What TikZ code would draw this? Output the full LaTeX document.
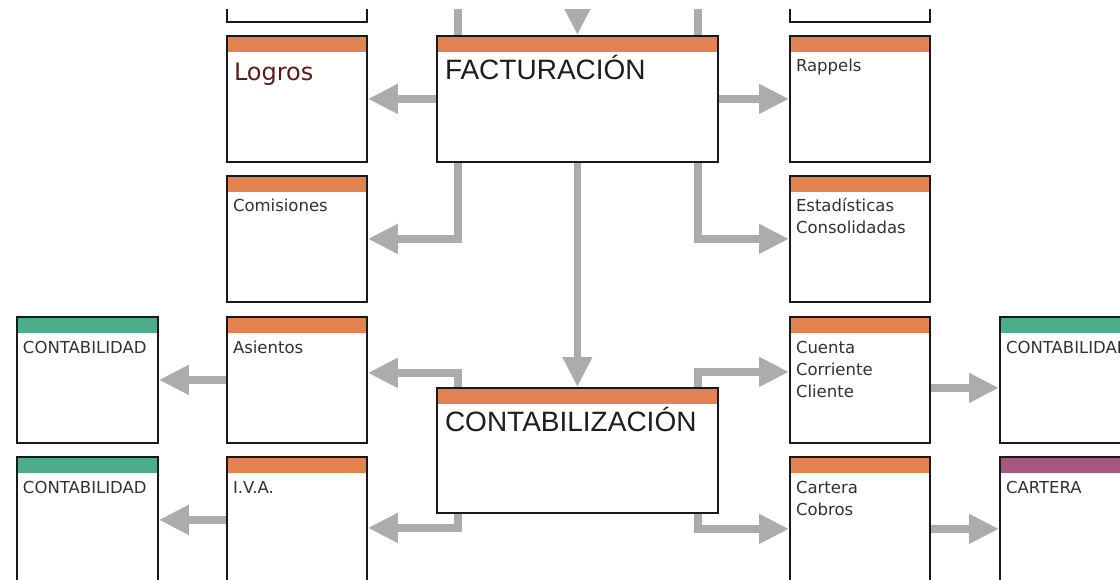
\documentclass[tikz,border=0pt]{standalone}
\usepackage{fontspec}
\newfontfamily\cardfont{DejaVu Sans}
\newfontfamily\titlefont{Liberation Sans}
\usetikzlibrary{arrows.meta}
\definecolor{hdrorange}{RGB}{227,131,82}
\definecolor{hdrgreen}{RGB}{79,172,139}
\definecolor{hdrpurple}{RGB}{170,85,127}
\definecolor{arrgray}{RGB}{172,172,172}
\definecolor{txtgray}{RGB}{50,50,50}
\definecolor{titleblack}{RGB}{30,30,30}
\definecolor{logrored}{RGB}{92,26,26}
\tikzset{
  card/.style={rectangle, draw=black!90, line width=1.8pt, fill=white, inner sep=0pt,
    anchor=north west,
    path picture={\fill[#1] (path picture bounding box.north west) rectangle ([yshift=-16pt]path picture bounding box.north east);}},
  small/.style={minimum width=140pt, minimum height=126pt},
  big/.style={minimum width=281pt, minimum height=126pt},
  lbl/.style={anchor=north west, inner sep=0pt, outer sep=0pt, align=left, text=txtgray,
    font=\cardfont\fontsize{16.5}{22}\selectfont},
  ttl/.style={anchor=north west, inner sep=0pt, outer sep=0pt, text=titleblack,
    font=\titlefont\fontsize{28}{32}\selectfont},
  conn/.style={draw=arrgray, line width=7.5pt, line join=miter},
  arr/.style={conn, -{Triangle[length=30pt,width=28pt]}}
}
\begin{document}
\begin{tikzpicture}[x=1pt,y=-1pt]
\useasboundingbox (0,0) rectangle (1120,580);
\clip (0,10) rectangle (1120,580);
% left column
\node[card=hdrorange, small] (topl) at (226,-105) {};
\node[card=hdrorange, small] (logros) at (226,35) {};
\node[card=hdrorange, small] (comis) at (226,175) {};
\node[card=hdrorange, small] (asientos) at (226,316) {};
\node[card=hdrorange, small] (iva) at (226,456) {};
% right column
\node[card=hdrorange, small] (topr) at (789,-105) {};
\node[card=hdrorange, small] (rappels) at (789,35) {};
\node[card=hdrorange, small] (estad) at (789,175) {};
\node[card=hdrorange, small] (cuenta) at (789,316) {};
\node[card=hdrorange, small] (cartcob) at (789,456) {};
% outer columns
\node[card=hdrgreen, small, minimum width=141pt] (cont1) at (16,316) {};
\node[card=hdrgreen, small, minimum width=141pt] (cont2) at (16,456) {};
\node[card=hdrgreen, small] (cont3) at (999,316) {};
\node[card=hdrpurple, small] (cartera) at (999,456) {};
% centre
\node[card=hdrorange, big] (fact) at (436,35) {};
\node[card=hdrorange, big, minimum height=125pt] (contab) at (436,387) {};
% texts
\node[lbl, text=logrored, font=\cardfont\fontsize{24}{28}\selectfont] (tlogros) at ([xshift=8pt,yshift=-26.4pt]logros.north west) {\strut Logros};
\node[lbl] (tcomis) at ([xshift=7pt,yshift=-21.6pt]comis.north west) {\strut Comisiones};
\node[lbl] (tasientos) at ([xshift=7pt,yshift=-21.6pt]asientos.north west) {\strut Asientos};
\node[lbl] (tiva) at ([xshift=7pt,yshift=-21.6pt]iva.north west) {\strut I.V.A.};
\node[lbl] (trappels) at ([xshift=7pt,yshift=-21.6pt]rappels.north west) {\strut Rappels};
\node[lbl] (testad) at ([xshift=7pt,yshift=-21.6pt]estad.north west) {\strut Estadísticas\\Consolidadas};
\node[lbl] (tcuenta) at ([xshift=7pt,yshift=-21.6pt]cuenta.north west) {\strut Cuenta\\Corriente\\Cliente};
\node[lbl] (tcartcob) at ([xshift=7pt,yshift=-21.6pt]cartcob.north west) {\strut Cartera\\Cobros};
\node[lbl] (tcont1) at ([xshift=7pt,yshift=-21.6pt]cont1.north west) {\strut CONTABILIDAD};
\node[lbl] (tcont2) at ([xshift=7pt,yshift=-21.6pt]cont2.north west) {\strut CONTABILIDAD};
\node[lbl] (tcont3) at ([xshift=7pt,yshift=-21.6pt]cont3.north west) {\strut CONTABILIDAD};
\node[lbl] (tcartera) at ([xshift=7pt,yshift=-21.6pt]cartera.north west) {\strut CARTERA};
\node[ttl] (tfact) at ([xshift=9pt,yshift=-20.6pt]fact.north west) {\strut FACTURACIÓN};
\node[ttl] (tcontab) at ([xshift=9pt,yshift=-20.6pt]contab.north west) {\strut CONTABILIZACIÓN};
% incoming from above
\coordinate (inL) at ([xshift=22pt,yshift=40pt]fact.north west);
\coordinate (inC) at ([yshift=40pt]fact.north);
\coordinate (inR) at ([xshift=-21pt,yshift=40pt]fact.north east);
\draw[conn] (inL) -- ([xshift=22pt]fact.north west);
\draw[arr] (inC) -- (fact.north);
\draw[conn] (inR) -- ([xshift=-21pt]fact.north east);
% from FACTURACION
\draw[arr] (fact.west) -- (logros.east);
\draw[arr] (fact.east) -- (rappels.west);
\draw[arr] ([xshift=22pt]fact.south west) |- (comis.east);
\draw[arr] ([xshift=-21pt]fact.south east) |- (estad.west);
\draw[arr] (fact.south) -- (contab.north);
% from CONTABILIZACION
\draw[arr] ([xshift=22pt]contab.north west) |- ([yshift=7pt]asientos.east);
\draw[arr] ([xshift=-21pt]contab.north east) |- ([yshift=8pt]cuenta.west);
\draw[arr] ([xshift=22pt]contab.south west) |- ([yshift=-8pt]iva.east);
\draw[arr] ([xshift=-21pt]contab.south east) |- ([yshift=-9pt]cartcob.west);
% onward
\draw[arr] (asientos.west) -- (cont1.east);
\draw[arr] (iva.west) -- (cont2.east);
\draw[arr] ([yshift=-8pt]cuenta.east) -- ([yshift=-8pt]cont3.west);
\draw[arr] ([yshift=-9pt]cartcob.east) -- ([yshift=-9pt]cartera.west);
\end{tikzpicture}
\end{document}
